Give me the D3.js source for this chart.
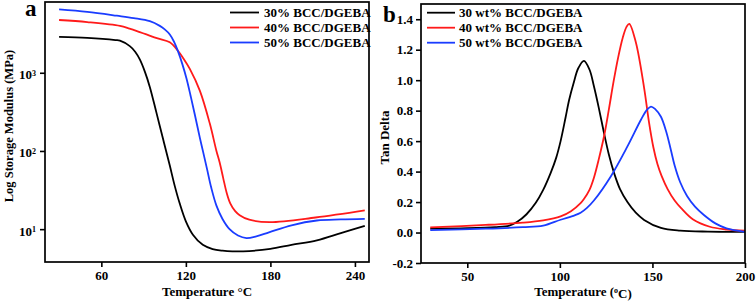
<!DOCTYPE html>
<html><head><meta charset="utf-8">
<script src="https://cdn.jsdelivr.net/npm/d3@7"></script>
<style>
body{margin:0;background:#fff;}
</style></head>
<body>
<svg id="c" width="756" height="304"></svg>
<script>
// ---- Panel a data: temperature (°C) and storage modulus (MPa)
const aT30 = [30,50,70,73.2,80.2,84,87.3,91,94.4,99.1,104,108.5,112,115.6,120,125,132,139,146,153,165,180,195,213,230,247];
const aE30 = [2880,2800,2620,2570,2190,1860,1480,1020,660,309,138,66,36.3,21.4,12.6,8.5,6.3,5.56,5.3,5.2,5.25,5.6,6.3,7.2,8.9,11.0];
const aT40 = [30,50,73.2,80,87.3,92,100,108.6,114.5,118,122.8,129.9,137,141.7,144,146.5,149,151.5,155,158.2,165,179.5,212,247];
const aE40 = [4730,4450,3980,3670,3310,3090,2750,2450,1900,1550,1120,590,224,100,71,45,29,21.4,17,15.1,13.2,12.3,14.1,17.4];
const aT50 = [30,50,71,83,94.4,101.5,105,108.6,111.5,114.5,117.5,120.4,123.3,126.3,129.9,132.2,135,138,141.7,146,151,157,163,170,179,195,213,230,247];
const aE50 = [6450,6000,5370,5010,4570,3980,3590,3090,2510,1860,1290,850,513,295,148,98,59,34,20,13.5,10.0,8.3,7.7,8.1,9.1,11.2,12.9,13.3,13.5];
const aXTicks = [60,120,180,240];
const aYTicks = [10,100,1000];
const aYTickLabels = ["1","2","3"]; // exponents of 10
const aLegend = ["30% BCC/DGEBA","40% BCC/DGEBA","50% BCC/DGEBA"];

// ---- Panel b data: temperature (°C) and tan delta
const bT30 = [30,50,65,72.7,77,82,87,91,95,98,100.4,103,105,107.4,110,113,116,118.4,121,123.9,126.5,129.3,132.5,136.5,141,145.5,154.6,165,180,200];
const bD30 = [0.025,0.028,0.035,0.045,0.07,0.12,0.195,0.28,0.39,0.49,0.60,0.75,0.87,0.98,1.08,1.127,1.07,0.96,0.82,0.65,0.51,0.39,0.285,0.20,0.13,0.083,0.03,0.012,0.006,0.005];
const bT40 = [30,60,80,91,100.4,106,111.2,113,116,118.4,121,124,126.5,129,131.5,134,136,137.5,141,145.5,148.2,150.5,152.7,155,158.2,162,165.5,172,181,190,200];
const bD40 = [0.034,0.05,0.065,0.08,0.106,0.14,0.193,0.22,0.28,0.36,0.48,0.64,0.81,0.99,1.15,1.28,1.35,1.37,1.25,0.95,0.72,0.56,0.45,0.37,0.285,0.21,0.16,0.085,0.038,0.02,0.012];
const bT50 = [30,60,80,91,100.4,108,111.2,114.5,118.4,127.5,136.5,143.8,147,149.2,151.5,154.6,157.5,160,162,165,168.7,173,177.8,184,190,200];
const bD50 = [0.016,0.025,0.035,0.045,0.084,0.113,0.13,0.16,0.21,0.368,0.565,0.74,0.805,0.827,0.81,0.76,0.66,0.54,0.44,0.33,0.24,0.17,0.115,0.06,0.027,0.005];
const bXTicks = [50,100,150,200];
const bYTicks = [-0.2,0,0.2,0.4,0.6,0.8,1.0,1.2,1.4];
const bLegend = ["30 wt% BCC/DGEBA","40 wt% BCC/DGEBA","50 wt% BCC/DGEBA"];

const colors = ["#000000","#ff1a1a","#1a3cff"];
const FONT = "'Liberation Serif','Times New Roman',Times,serif";

const svg = d3.select("#c").attr("font-family",FONT).attr("font-weight","bold");

function frame(g, x0, y0, x1, y1){
  g.append("rect").attr("x",x0).attr("y",y0).attr("width",x1-x0).attr("height",y1-y0)
   .attr("fill","none").attr("stroke","#000").attr("stroke-width",1.7);
}
function styleAxis(sel){
  sel.attr("font-family",FONT).attr("font-weight","bold");
  sel.select(".domain").remove();
  sel.selectAll(".tick line").attr("stroke","#000").attr("stroke-width",1.6);
  sel.selectAll(".tick text").attr("fill","#000").attr("font-family",FONT).attr("font-weight","bold").style("font-size","13px");
}
function txt(g){ return g.append("text").attr("font-family",FONT).attr("font-weight","bold").attr("fill","#000"); }
const curve = d3.curveCatmullRom.alpha(0.5);

// ================= Panel a =================
{
  const L=45,R=369,T=2,B=262;
  const x = d3.scaleLinear().domain([20,250]).range([L,R]);
  const y = d3.scaleLog().domain([Math.pow(10,0.58),Math.pow(10,3.905)]).range([B,T]);
  const g = svg.append("g");
  const series = [[aT30,aE30],[aT40,aE40],[aT50,aE50]];
  const line = d3.line().x(d=>x(d[0])).y(d=>y(d[1])).curve(curve);
  series.forEach((s,i)=>{
    g.append("path").datum(s[0].map((t,j)=>[t,s[1][j]]))
     .attr("d",line).attr("fill","none").attr("stroke",colors[i]).attr("stroke-width",1.8);
  });
  frame(g,L,T,R,B);
  const xa = g.append("g").attr("transform",`translate(0,${B})`)
    .call(d3.axisBottom(x).tickValues(aXTicks).tickSize(5).tickPadding(4).tickFormat(d3.format("d")));
  styleAxis(xa);
  const ya = g.append("g").attr("transform",`translate(${L},0)`)
    .call(d3.axisLeft(y).tickValues(aYTicks).tickSize(5).tickPadding(4).tickFormat(()=>""));
  styleAxis(ya);
  ya.selectAll(".tick text").each(function(d,i){
    const t = d3.select(this);
    t.text(null);
    t.append("tspan").text("10");
    t.append("tspan").attr("dy","-0.45em").style("font-size","8px").text(aYTickLabels[i]);
  }).attr("dy","0.45em");
  txt(g).attr("x",(L+R)/2).attr("y",296).attr("text-anchor","middle")
    .style("font-size","13px").text("Temperature °C");
  txt(g).attr("transform",`translate(12.5,${(T+B)/2-6}) rotate(-90)`).attr("text-anchor","middle")
    .style("font-size","12.5px").text("Log Storage Modulus (MPa)");
  txt(g).attr("x",25).attr("y",16).style("font-size","23px").text("a");
  aLegend.forEach((lab,i)=>{
    const yy = 12.5 + i*15;
    g.append("line").attr("x1",230).attr("x2",259).attr("y1",yy).attr("y2",yy)
      .attr("stroke",colors[i]).attr("stroke-width",1.8);
    txt(g).attr("x",264).attr("y",yy+4.5).style("font-size","13px").text(lab);
  });
}

// ================= Panel b =================
{
  const L=421,R=745,T=4,B=263;
  const x = d3.scaleLinear().domain([25,200]).range([L,R]);
  const y = d3.scaleLinear().domain([-0.2,1.5]).range([B,T]);
  const g = svg.append("g");
  const series = [[bT30,bD30],[bT40,bD40],[bT50,bD50]];
  const line = d3.line().x(d=>x(d[0])).y(d=>y(d[1])).curve(curve);
  series.forEach((s,i)=>{
    g.append("path").datum(s[0].map((t,j)=>[t,s[1][j]]))
     .attr("d",line).attr("fill","none").attr("stroke",colors[i]).attr("stroke-width",1.8);
  });
  frame(g,L,T,R,B);
  const xa = g.append("g").attr("transform",`translate(0,${B})`)
    .call(d3.axisBottom(x).tickValues(bXTicks).tickSize(5).tickPadding(4).tickFormat(d3.format("d")));
  styleAxis(xa);
  const ya = g.append("g").attr("transform",`translate(${L},0)`)
    .call(d3.axisLeft(y).tickValues(bYTicks).tickSize(5).tickPadding(3).tickFormat(d3.format(".1f")));
  styleAxis(ya);
  ya.selectAll(".tick text").text(d=>d3.format(".1f")(d).replace("−","-"));
  const xt = txt(g).attr("x",(L+R)/2).attr("y",296).attr("text-anchor","middle")
    .style("font-size","13px");
  xt.append("tspan").text("Temperature (");
  xt.append("tspan").attr("dy","-0.4em").style("font-size","8px").text("o");
  xt.append("tspan").attr("dy","0.4em").text("C)");
  txt(g).attr("transform",`translate(389,${(T+B)/2+4}) rotate(-90)`).attr("text-anchor","middle")
    .style("font-size","13px").text("Tan Delta");
  txt(g).attr("x",383).attr("y",22).style("font-size","23px").text("b");
  bLegend.forEach((lab,i)=>{
    const yy = 12.7 + i*15;
    g.append("line").attr("x1",427).attr("x2",455).attr("y1",yy).attr("y2",yy)
      .attr("stroke",colors[i]).attr("stroke-width",1.8);
    txt(g).attr("x",459).attr("y",yy+4.5).style("font-size","13px").text(lab);
  });
}
</script>
</body></html>
